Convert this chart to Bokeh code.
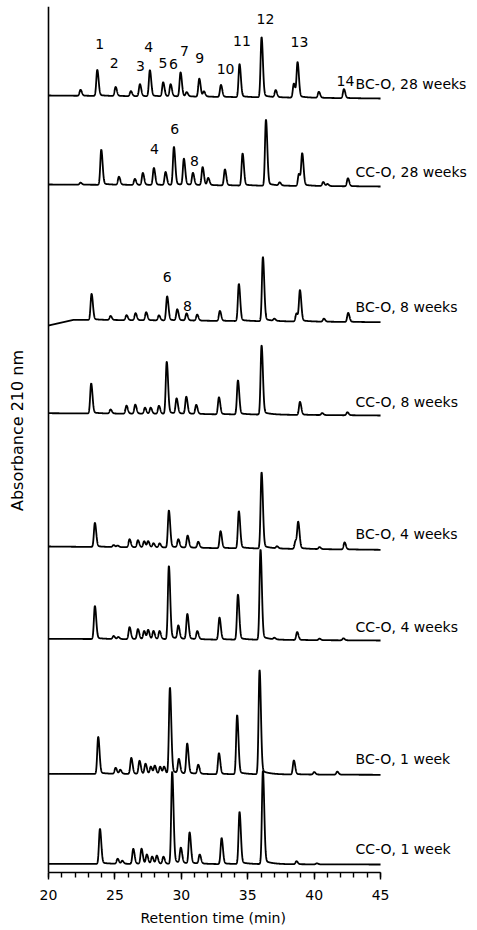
import numpy as np
from bokeh.plotting import figure
from bokeh.models import LinearAxis, SingleIntervalTicker, FixedTicker, Title, Label, Range1d, ColumnDataSource
from bokeh.core.properties import value
from bokeh.embed import file_html
from bokeh.resources import INLINE

# ---------------- data ----------------
samples = ["BC-O, 28 weeks", "CC-O, 28 weeks", "BC-O, 8 weeks", "CC-O, 8 weeks",
           "BC-O, 4 weeks", "CC-O, 4 weeks", "BC-O, 1 week", "CC-O, 1 week"]

# retention times (min) and peak heights (stacked absorbance units)
bc28_rt = [22.41, 23.67, 25.05, 26.2, 26.88, 27.63, 28.63, 29.19, 29.94, 30.4, 31.35, 31.7, 32.98, 34.38, 36.04, 37.1, 38.47, 38.75, 40.35, 42.24]
bc28_h = [6, 26, 9, 5, 12, 26, 14, 12, 24, 4, 18, 5, 12, 33, 60, 7, 14, 35, 6, 9]

cc28_rt = [22.41, 23.97, 25.3, 26.5, 27.1, 27.93, 28.81, 29.44, 30.19, 30.87, 31.6, 32.02, 33.28, 34.61, 36.37, 37.4, 38.85, 39.1, 40.68, 41.0, 42.54]
cc28_h = [2, 35, 8, 6, 12, 17, 13, 38, 26, 12, 18, 7, 16, 32, 66, 3, 12, 32, 4, 2, 8]

bc8_rt = [23.24, 24.67, 25.87, 26.55, 27.35, 28.31, 28.93, 29.69, 30.39, 31.19, 32.9, 34.33, 36.14, 37.0, 38.67, 38.93, 40.73, 42.56]
bc8_h = [26, 4, 5, 7, 8, 5, 24, 11, 7, 6, 10, 37, 64, 2, 8, 31, 3, 9]

cc8_rt = [23.21, 24.67, 25.87, 26.53, 27.26, 27.69, 28.31, 28.9, 29.64, 30.37, 31.12, 32.83, 34.26, 36.04, 38.93, 40.6, 42.5]
cc8_h = [30, 4, 8, 9, 6, 6, 8, 52, 15, 17, 9, 17, 34, 69, 13, 2, 3]

bc4_rt = [23.49, 24.9, 25.2, 26.1, 26.73, 27.2, 27.5, 27.9, 28.36, 29.06, 29.77, 30.47, 31.27, 32.95, 34.33, 36.04, 37.2, 38.6, 38.8, 40.4, 42.29]
bc4_h = [24, 2, 1.5, 8, 7, 6, 6, 4, 4, 37, 8, 12, 6, 17, 37, 76, 2, 8, 26, 2, 7]

cc4_rt = [23.49, 24.9, 25.25, 26.1, 26.73, 27.2, 27.5, 27.9, 28.36, 29.06, 29.77, 30.45, 31.2, 32.87, 34.26, 35.96, 37.0, 38.72, 40.4, 42.2]
cc4_h = [33, 3, 2, 12, 10, 8, 9, 8, 8, 73, 13, 25, 8, 22, 45, 90, 1.5, 8, 1.5, 2]

bc1_rt = [23.74, 25.05, 25.4, 26.23, 26.85, 27.3, 27.7, 28.0, 28.4, 28.7, 29.14, 29.81, 30.44, 31.27, 32.83, 34.2, 35.89, 38.47, 40.0, 41.74]
bc1_h = [37, 6, 4, 16, 13, 10, 7, 8, 7, 7, 86, 14, 30, 9, 21, 59, 104, 14, 2.5, 3]

cc1_rt = [23.87, 25.2, 25.55, 26.38, 27.0, 27.4, 27.8, 28.15, 28.65, 29.31, 29.96, 30.62, 31.38, 33.03, 34.38, 36.14, 38.67, 40.2]
cc1_h = [35, 5, 3, 15, 15, 9, 7, 8, 7, 92, 15, 31, 9, 26, 52, 93, 3, 1]

# baseline knots (min, absorbance relative to trace offset)
bc28_base = ([20, 45], [0, -3])
cc28_base = ([20, 45], [0, -2])
bc8_base = ([20, 21.9, 45], [-5.7, 0, -2.4])
cc8_base = ([20, 45], [0, -2.3])
bc4_base = ([20, 45], [0, -3.3])
cc4_base = ([20, 45], [0, -1.7])
bc1_base = ([20, 45], [0, -1])
cc1_base = ([20, 45], [0, -0.7])

# peak number annotations (retention time, stacked absorbance)
bc28_ids = ["1", "2", "3", "4", "5", "6", "7", "9", "10", "11", "12", "13", "14"]
bc28_id_rt = [23.86, 24.95, 26.93, 27.55, 28.61, 29.41, 30.24, 31.39, 33.33, 34.56, 36.34, 38.90, 42.36]
bc28_id_y = [829, 810, 807, 825.3, 809.3, 808.7, 821.3, 814.7, 803.7, 832, 854, 830.3, 792]
cc28_ids = ["4", "6", "8"]
cc28_id_rt = [27.98, 29.51, 30.99]
cc28_id_y = [723.7, 743.7, 712]
bc8_ids = ["6", "8"]
bc8_id_rt = [28.94, 30.47]
bc8_id_y = [596, 567]

x_start, x_end, x_ticks_major = 20, 45, 5
x_label = "Retention time (min)"
y_label = "Absorbance 210 nm"

# ---------------- layout / style ----------------
offsets = [777, 688, 552.7, 459.3, 326, 233.7, 98.7, 8.7]
name_y = [788.7, 700.3, 565.3, 470.3, 339, 245.3, 114, 23.5]
name_x = 43.12
y_label_pos = (17.70, 442)
FONT = "DejaVu Sans"

traces = [(bc28_rt, bc28_h, bc28_base), (cc28_rt, cc28_h, cc28_base),
          (bc8_rt, bc8_h, bc8_base), (cc8_rt, cc8_h, cc8_base),
          (bc4_rt, bc4_h, bc4_base), (cc4_rt, cc4_h, cc4_base),
          (bc1_rt, bc1_h, bc1_base), (cc1_rt, cc1_h, cc1_base)]

t = np.linspace(x_start, x_end, 3001)


def peak_shape(t, rt, h):
    s = np.where(t < rt, 0.072, 0.1)
    g = np.exp(-0.5 * ((t - rt) / s) ** 2)
    d = np.clip(t - rt, 0, None)
    tail = np.where(t > rt, 0.045 * (1 - np.exp(-d / 0.08)) * np.exp(-d / 0.6), 0.0)
    return h * (g + tail)


p = figure(width=477, height=930, x_range=Range1d(16.3855, 52.30), y_range=Range1d(0, 866),
           output_backend="svg", toolbar_location=None,
           x_axis_location=None, y_axis_location=None,
           min_border_left=0, min_border_right=0, min_border_top=6, min_border_bottom=58)
p.grid.visible = False
p.outline_line_color = None
p.background_fill_color = "white"
p.border_fill_color = "white"

for (rt, h, base), off in zip(traces, offsets):
    y = np.interp(t, base[0], base[1]) + off
    for r, hh in zip(rt, h):
        y = y + peak_shape(t, r, hh)
    p.line(t, y, line_color="black", line_width=1.8)

src = ColumnDataSource(dict(x=[name_x] * len(samples), y=name_y, text=samples))
p.text(x="x", y="y", text="text", source=src, text_font=value(FONT), text_font_size="14px",
       text_align="left", text_baseline="middle", text_color="black")

ids_src = ColumnDataSource(dict(x=bc28_id_rt + cc28_id_rt + bc8_id_rt,
                                y=bc28_id_y + cc28_id_y + bc8_id_y,
                                text=bc28_ids + cc28_ids + bc8_ids))
p.text(x="x", y="y", text="text", source=ids_src, text_font=value(FONT), text_font_size="14px",
       text_align="center", text_baseline="middle", text_color="black")

xaxis = LinearAxis(bounds=(x_start, x_end), ticker=SingleIntervalTicker(interval=x_ticks_major, num_minor_ticks=5))
xaxis.axis_line_width = 1.6
xaxis.major_tick_line_width = 1.4
xaxis.minor_tick_line_width = 1.4
xaxis.major_tick_out = 7
xaxis.major_tick_in = 0
xaxis.minor_tick_out = 5
xaxis.minor_tick_in = 0
xaxis.major_label_standoff = 10
xaxis.major_label_text_font = FONT
xaxis.major_label_text_font_size = "14px"
xaxis.major_label_text_color = "black"
p.add_layout(xaxis, "below")

yaxis = LinearAxis(ticker=FixedTicker(ticks=[]), fixed_location=x_start)
yaxis.axis_line_width = 1.6
yaxis.major_tick_out = 0
yaxis.minor_tick_out = 0
yaxis.major_label_text_font_size = "0px"
p.add_layout(yaxis, "left")

xt = Title(text=x_label, align="left", offset=140, standoff=10, text_font=FONT,
           text_font_size="14px", text_font_style="normal", text_color="black")
p.add_layout(xt, "below")

p.add_layout(Label(x=y_label_pos[0], y=y_label_pos[1], text=y_label, angle=np.pi / 2,
                   text_align="center", text_baseline="middle", text_font=FONT,
                   text_font_size="16px", text_color="black"))

open("out.html", "w").write(file_html(p, INLINE))
